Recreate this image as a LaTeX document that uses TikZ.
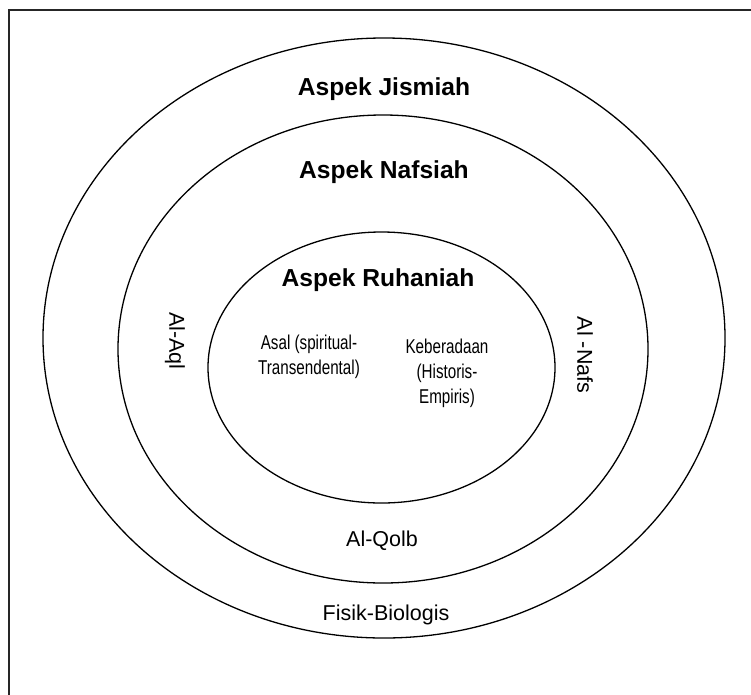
\documentclass[tikz,border=0pt]{standalone}
\usepackage{fontspec}
\setmainfont{Liberation Sans}
\newfontfamily\condfont[FakeStretch=0.76]{Liberation Sans}
\usetikzlibrary{shapes.geometric}
\begin{document}
\begin{tikzpicture}[x=1pt,y=-1pt,
  ring/.style={draw=black, line width=1.3pt, ellipse, inner sep=0pt, outer sep=0pt},
  title/.style={font=\fontsize{24.6}{28}\selectfont\bfseries, inner sep=0pt},
  lab/.style={font=\fontsize{21.5}{26}\selectfont, inner sep=0pt},
  small/.style={font=\condfont\fontsize{20}{25}\selectfont, align=center, inner sep=0pt}]
\clip (0,0) rectangle (751,694);
\fill[white] (0,0) rectangle (751,694);
\draw[line width=2pt, black!85] (9,9.5) rectangle (790,730);
\node[ring, minimum width=682pt, minimum height=600pt] (outer) at (384,338) {};
\node[ring, minimum width=530pt, minimum height=468pt] (middle) at (383,349) {};
\node[ring, minimum width=347pt, minimum height=271pt] (inner) at (381.5,367.5) {};
\node[title, anchor=base] (jism) at (384,95) {Aspek Jismiah};
\node[title, anchor=base] (nafsiah) at (384,178) {Aspek Nafsiah};
\node[title, anchor=base] (ruh) at (378,286) {Aspek Ruhaniah};
\node[lab, rotate=-90] (aql) at (175,341) {Al-Aql};
\node[lab, rotate=-90] (nafs) at (585,355) {Al -Nafs};
\node[lab, anchor=base] (qolb) at (382,546) {Al-Qolb};
\node[lab, anchor=base] (fisik) at (386,620) {Fisik-Biologis};
\node[small] (asal) at (309,357) {Asal (spiritual-\\Transendental)};
\node[small] (ada) at (447,373) {Keberadaan\\(Historis-\\Empiris)};
\end{tikzpicture}
\end{document}
